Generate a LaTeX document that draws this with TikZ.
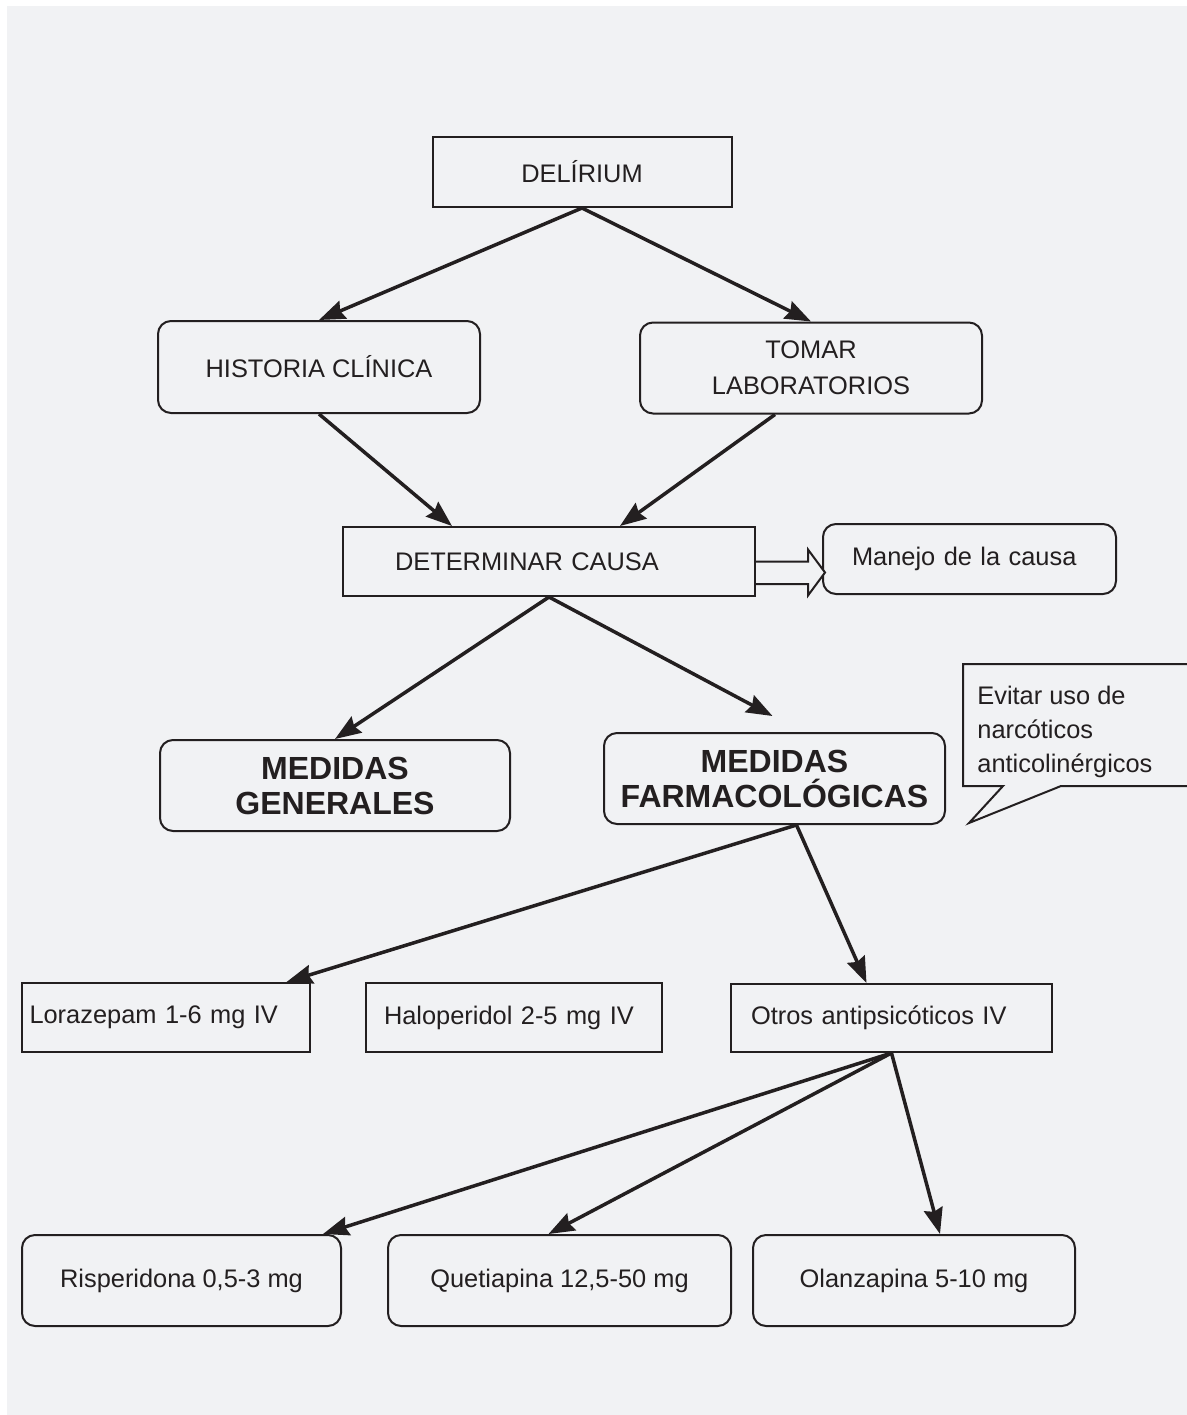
\documentclass[tikz,border=0pt]{standalone}
\usepackage{fontspec}
\setmainfont{Liberation Sans}
\usepackage{xcolor}
\usetikzlibrary{arrows.meta,calc}
\definecolor{fondo}{RGB}{241,242,244}
\definecolor{tinta}{RGB}{35,31,32}

\begin{document}
\begin{tikzpicture}[x=0.5pt, y=-0.5pt,
    caja/.style={draw=tinta, line width=1pt, align=center, inner sep=2pt, text=tinta,
      font=\fontsize{12.7}{18}\selectfont},
    redonda/.style={caja, rounded corners=6.5pt},
    grande/.style={redonda, font=\fontsize{16}{17.5}\selectfont\bfseries},
    flecha/.style={draw=tinta, line width=1.75pt, -{Stealth[length=13pt,width=9.5pt,inset=1.5pt]}}]
    \useasboundingbox (0,0) rectangle (1187,1415);
    \fill[fondo] (7,6) rectangle (1200,1430);

    \node[caja, minimum width=149.5pt, minimum height=35pt] (delirio) at (582,172) {DELÍRIUM};
    \node[redonda, minimum width=161pt, minimum height=46pt] (historia) at (319,367) {HISTORIA CLÍNICA};
    \node[redonda, minimum width=171pt, minimum height=45.5pt] (laborat) at (811,368) {TOMAR\\LABORATORIOS};
    \node[caja, minimum height=34.5pt, align=left, inner xsep=26pt, text width=154pt] (causa) at (549,561.5) {DETERMINAR CAUSA};
    \node[redonda, minimum height=35pt, align=left, inner xsep=14.5pt, text width=117.5pt] (manejo) at (969.5,559) {Manejo de la causa};
    % flecha hueca
    \draw[tinta, line width=1pt, fill=fondo] (causa.east) -- ++(52,0) -- ++(0,-12) -- ++(17,23) -- ++(-17,23)
      -- ++(0,-11.5) -- ++(-52,0);

    \node[grande, minimum width=175pt, minimum height=45.5pt] (generales) at (335,785.5) {MEDIDAS\\GENERALES};
    \node[grande, minimum width=170.5pt, minimum height=45.5pt] (farmaco) at (774.5,778.5) {MEDIDAS\\FARMACOLÓGICAS};

    % nota tipo bocadillo
    \node[anchor=north west, align=left, inner sep=0pt, text=tinta, font=\fontsize{12.7}{17}\selectfont] (nota) at (977,686)
      {Evitar uso de\\narcóticos\\anticolinérgicos};
    \draw[tinta, line width=1pt] (1200,664) -- (963,664) -- (963,786) -- (1003,786) -- (969,823) -- (1061,786) -- (1200,786);

    \node[caja, minimum height=34.5pt, align=left, inner xsep=4pt, text width=136pt] (loraz) at (165.5,1017.5) {Lorazepam 1-6 mg IV};
    \node[caja, minimum height=34.5pt, align=left, inner xsep=9pt, text width=130pt] (halop) at (514,1017.5) {Haloperidol 2-5 mg IV};
    \node[caja, minimum height=34pt, align=left, inner xsep=10pt, text width=140.5pt] (otros) at (891.5,1018) {Otros antipsicóticos IV};

    \node[redonda, minimum width=159.5pt, minimum height=45.5pt] (risper) at (181.5,1280.5) {Risperidona 0,5-3 mg};
    \node[redonda, minimum width=171.5pt, minimum height=45.5pt] (quetia) at (559.5,1280.5) {Quetiapina 12,5-50 mg};
    \node[redonda, minimum width=161pt, minimum height=45.5pt] (olanza) at (914,1280.5) {Olanzapina 5-10 mg};

    \draw[flecha] (delirio.south) -- (historia.north);
    \draw[flecha] (delirio.south) -- (laborat.north);
    \draw[flecha] (historia.south) -- ($(causa.north)+(-97,0)$);
    \draw[flecha] ($(laborat.south)+(-36,0)$) -- ($(causa.north)+(71,0)$);
    \draw[flecha] (causa.south) -- (generales.north);
    \draw[flecha] (causa.south) -- ($(farmaco.north)+(-2,-16)$);
    \draw[flecha] ($(farmaco.south)+(22,0)$) -- ($(loraz.north east)+(-24,0)$);
    \draw[flecha] ($(farmaco.south)+(22,0)$) -- ($(otros.north)+(-25,0)$);
    \draw[flecha] (otros.south) -- ($(risper.north east)+(-19,0)$);
    \draw[flecha] (otros.south) -- ($(quetia.north)+(-11,0)$);
    \draw[flecha] (otros.south) -- ($(olanza.north)+(26,0)$);
\end{tikzpicture}
\end{document}
